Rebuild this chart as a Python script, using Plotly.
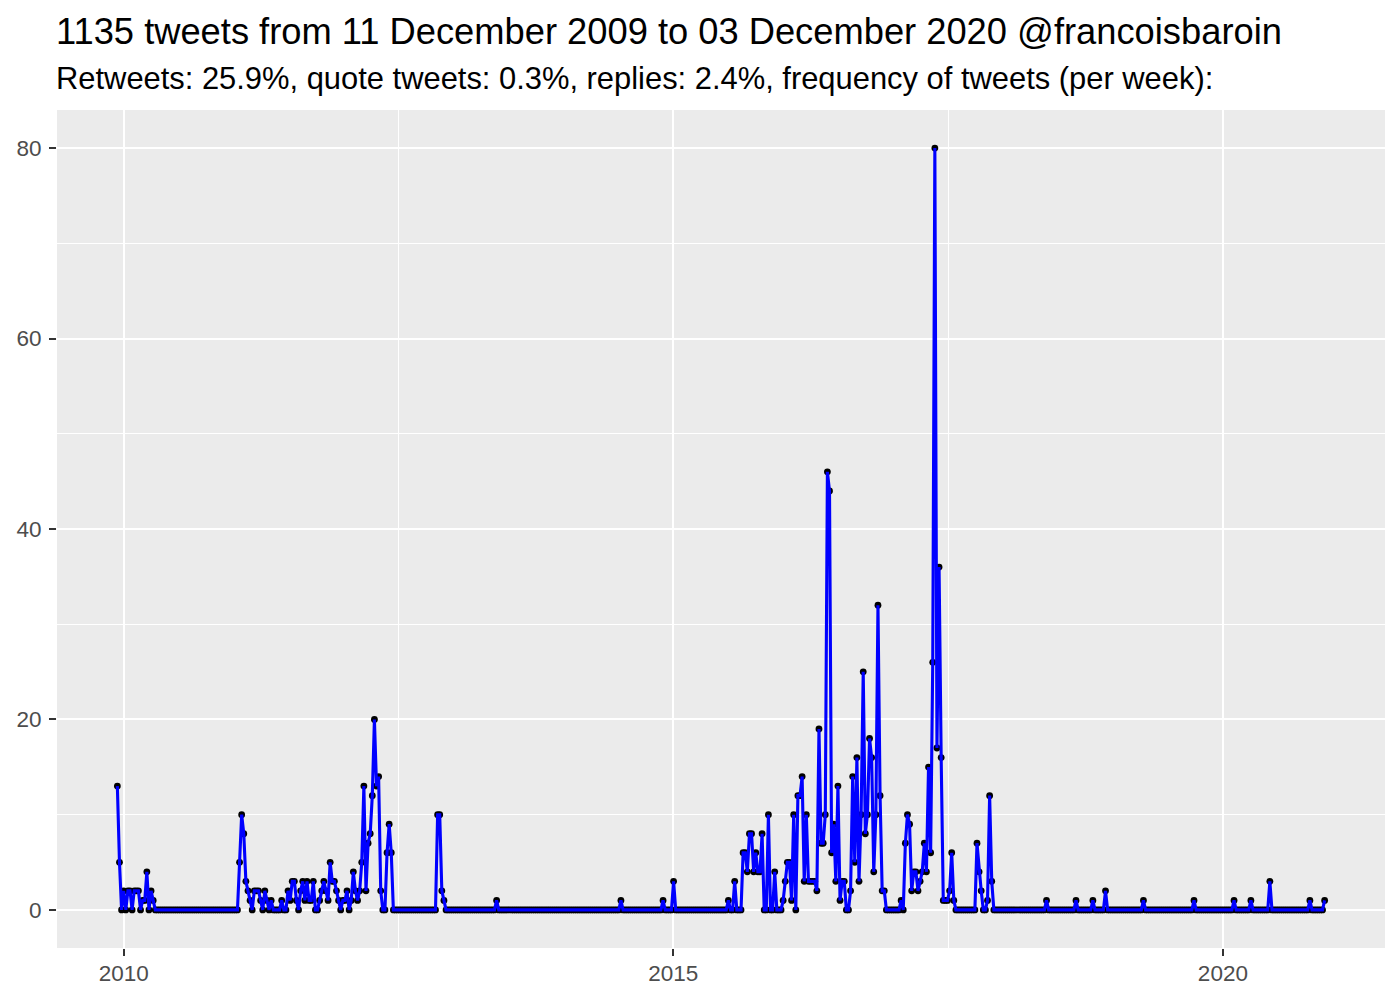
import pandas as pd
import plotly.graph_objects as go

# ---- data (tweets per week, weekly bins) ----
week_start = "2009-12-11"
week_end = "2020-12-03"

tweets_per_week = [
    # 0-19
    13, 5, 0, 2, 0, 2, 2, 0, 2, 2, 2, 0, 1, 1, 4, 0, 2, 1, 0, 0,
    # 20-56
    0, 0, 0, 0, 0, 0, 0, 0, 0, 0, 0, 0, 0, 0, 0, 0, 0, 0, 0, 0,
    0, 0, 0, 0, 0, 0, 0, 0, 0, 0, 0, 0, 0, 0, 0, 0, 0,
    # 57-131
    0, 5, 10, 8, 3, 2, 1, 0, 2, 2,
    2, 1, 0, 2, 1, 0, 1, 0, 0, 0,
    0, 1, 0, 0, 2, 1, 3, 3, 1, 0,
    2, 3, 1, 3, 1, 1, 3, 0, 0, 1,
    2, 3, 2, 1, 5, 3, 3, 2, 1, 0,
    1, 1, 2, 0, 1, 4, 2, 1, 2, 5,
    13, 2, 7, 8, 12, 20, 13, 14, 2, 0,
    0, 6, 9, 6, 0,
    # 132-151
    0, 0, 0, 0, 0, 0, 0, 0, 0, 0, 0, 0, 0, 0, 0, 0, 0, 0, 0, 0,
    # 152-156
    10, 10, 2, 1, 0,
    # 157-179
    0, 0, 0, 0, 0, 0, 0, 0, 0, 0, 0, 0, 0, 0, 0, 0, 0, 0, 0, 0, 0, 0, 0,
    # 180
    1,
    # 181-238
    0, 0, 0, 0, 0, 0, 0, 0, 0, 0, 0, 0, 0, 0, 0, 0, 0, 0, 0, 0,
    0, 0, 0, 0, 0, 0, 0, 0, 0, 0, 0, 0, 0, 0, 0, 0, 0, 0, 0, 0,
    0, 0, 0, 0, 0, 0, 0, 0, 0, 0, 0, 0, 0, 0, 0, 0, 0, 0,
    # 239
    1,
    # 240-258
    0, 0, 0, 0, 0, 0, 0, 0, 0, 0, 0, 0, 0, 0, 0, 0, 0, 0, 0,
    # 259
    1,
    # 260-263
    0, 0, 0, 0,
    # 264
    3,
    # 265-289
    0, 0, 0, 0, 0, 0, 0, 0, 0, 0, 0, 0, 0, 0, 0, 0, 0, 0, 0, 0, 0, 0, 0, 0, 0,
    # 290-399
    1, 0, 0, 3, 0, 0, 0, 6, 6, 4,
    8, 8, 4, 6, 4, 4, 8, 0, 0, 10,
    0, 0, 4, 0, 0, 0, 1, 3, 5, 5,
    1, 10, 0, 12, 12, 14, 3, 10, 3, 3,
    3, 3, 2, 19, 7, 7, 10, 46, 44, 6,
    9, 3, 13, 1, 3, 3, 0, 0, 2, 14,
    5, 16, 3, 10, 25, 8, 10, 18, 16, 4,
    10, 32, 12, 2, 2, 0, 0, 0, 0, 0,
    0, 0, 1, 0, 7, 10, 9, 2, 4, 4,
    2, 3, 4, 7, 4, 15, 6, 26, 80, 17,
    36, 16, 1, 1, 1, 2, 6, 1, 0, 0,
    # 400-407
    0, 0, 0, 0, 0, 0, 0, 0,
    # 408-416
    7, 4, 2, 0, 0, 1, 12, 3, 0,
    # 417-440
    0, 0, 0, 0, 0, 0, 0, 0, 0, 0, 0, 0, 0, 0, 0, 0, 0, 0, 0, 0, 0, 0, 0, 0,
    # 441
    1,
    # 442-454
    0, 0, 0, 0, 0, 0, 0, 0, 0, 0, 0, 0, 0,
    # 455
    1,
    # 456-462
    0, 0, 0, 0, 0, 0, 0,
    # 463
    1,
    # 464-468
    0, 0, 0, 0, 0,
    # 469
    2,
    # 470-486
    0, 0, 0, 0, 0, 0, 0, 0, 0, 0, 0, 0, 0, 0, 0, 0, 0,
    # 487
    1,
    # 488-510
    0, 0, 0, 0, 0, 0, 0, 0, 0, 0, 0, 0, 0, 0, 0, 0, 0, 0, 0, 0, 0, 0, 0,
    # 511
    1,
    # 512-529
    0, 0, 0, 0, 0, 0, 0, 0, 0, 0, 0, 0, 0, 0, 0, 0, 0, 0,
    # 530
    1,
    # 531-537
    0, 0, 0, 0, 0, 0, 0,
    # 538
    1,
    # 539-546
    0, 0, 0, 0, 0, 0, 0, 0,
    # 547
    3,
    # 548-565
    0, 0, 0, 0, 0, 0, 0, 0, 0, 0, 0, 0, 0, 0, 0, 0, 0, 0,
    # 566
    1,
    # 567-572
    0, 0, 0, 0, 0, 0,
    # 573
    1,
]

x_tick_vals = ["2010-01-01", "2015-01-01", "2020-01-01"]
x_tick_text = ["2010", "2015", "2020"]
x_minor_vals = ["2012-07-02", "2017-07-02"]
y_tick_vals = [0, 20, 40, 60, 80]
y_minor_vals = [10, 30, 50, 70]

title_text = "1135 tweets from 11 December 2009 to 03 December 2020 @francoisbaroin"
subtitle_text = ("Retweets: 25.9%, quote tweets: 0.3%, replies: 2.4%, "
                 "frequency of tweets (per week):")

weeks = pd.date_range(week_start, periods=len(tweets_per_week), freq="7D")

FONT = "Liberation Sans, Arial, Helvetica, sans-serif"

fig = go.Figure()
fig.add_trace(go.Scatter(
    x=weeks, y=tweets_per_week, mode="markers",
    marker=dict(color="black", size=6.8, line=dict(width=0)),
    hoverinfo="skip", showlegend=False,
))
fig.add_trace(go.Scatter(
    x=weeks, y=tweets_per_week, mode="lines",
    line=dict(color="#0000FF", width=3.1),
    showlegend=False,
))

pad = (weeks[-1] - weeks[0]) * 0.05
W, H = 1400, 1000
# page body has an 8px offset; margins compensate so the panel sits at
# x 57..1385, y 110..948 in the window
ml, mr, mt, mb = 49, 23, 102, 60
ph = H - mt - mb

fig.update_layout(
    width=W, height=H,
    margin=dict(l=ml, r=mr, t=mt, b=mb, autoexpand=False),
    paper_bgcolor="white",
    plot_bgcolor="#EBEBEB",
    font=dict(family=FONT),
    xaxis=dict(
        type="date", automargin=False,
        range=[weeks[0] - pad, weeks[-1] + pad],
        tickmode="array", tickvals=x_tick_vals, ticktext=x_tick_text,
        showgrid=True, gridcolor="white", gridwidth=2.2,
        zeroline=False, showline=False,
        ticks="outside", ticklen=7, tickwidth=1.6, tickcolor="#333333",
        tickfont=dict(size=22.5, color="#4D4D4D", family=FONT),
        ticklabelstandoff=-2,
        minor=dict(tickmode="array", tickvals=x_minor_vals, showgrid=True,
                   gridcolor="white", gridwidth=1.1, ticks=""),
    ),
    yaxis=dict(
        automargin=False,
        range=[-4, 84],
        tickmode="array", tickvals=y_tick_vals,
        showgrid=True, gridcolor="white", gridwidth=2.2,
        zeroline=False, showline=False,
        ticks="outside", ticklen=7, tickwidth=1.6, tickcolor="#333333",
        tickfont=dict(size=22.5, color="#4D4D4D", family=FONT),
        ticklabelstandoff=3,
        minor=dict(tickmode="array", tickvals=y_minor_vals, showgrid=True,
                   gridcolor="white", gridwidth=1.1, ticks=""),
    ),
    annotations=[
        dict(text=title_text, xref="paper", yref="paper", x=0, y=1 + 78 / ph,
             xanchor="left", yanchor="middle", showarrow=False, xshift=-3,
             font=dict(size=36.3, color="black", family=FONT)),
        dict(text=subtitle_text, xref="paper", yref="paper", x=0, y=1 + 32 / ph,
             xanchor="left", yanchor="middle", showarrow=False, xshift=-3,
             font=dict(size=30.9, color="black", family=FONT)),
    ],
)

fig.write_html("out.html")
